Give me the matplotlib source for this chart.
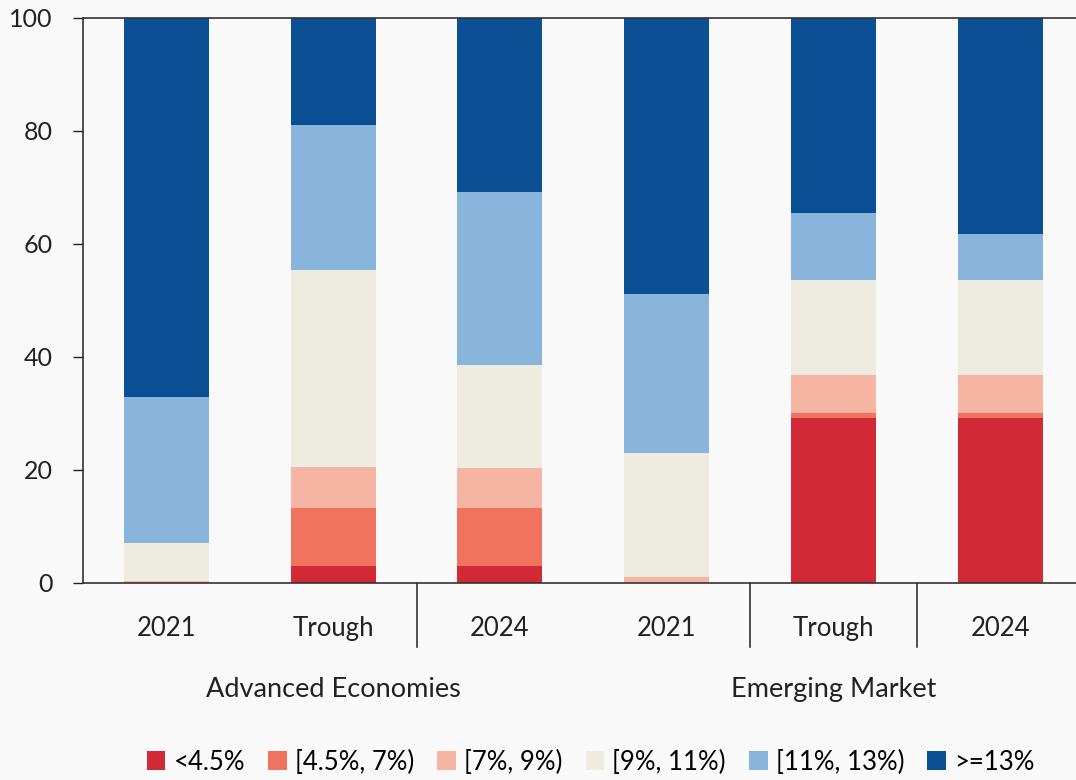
import matplotlib
matplotlib.use("Agg")
import matplotlib.pyplot as plt
import numpy as np

plt.rcParams["font.family"] = ["Lato", "DejaVu Sans"]

categories = ["2021", "Trough", "2024", "2021", "Trough", "2024"]
groups = ["Advanced Economies", "Emerging Market"]
group_centers = [1, 4]
separators = [1.5, 3.5, 4.5]

buckets = ["<4.5%", "[4.5%, 7%)", "[7%, 9%)", "[9%, 11%)", "[11%, 13%)", ">=13%"]
colors = ["#d12a36", "#f07360", "#f6b4a2", "#eeebe1", "#89b4db", "#0b4f95"]

# share of countries per bucket, for each bar
lt_4_5 = [0.0, 3.0, 3.0, 0.0, 29.2, 29.2]
b_4_5_7 = [0.0, 10.3, 10.3, 0.0, 0.9, 0.9]
b_7_9 = [0.3, 7.3, 7.1, 1.0, 6.7, 6.7]
b_9_11 = [6.8, 34.8, 18.2, 22.0, 16.8, 16.8]
b_11_13 = [25.9, 25.7, 30.6, 28.1, 11.8, 8.1]
ge_13 = [67.0, 18.9, 30.8, 48.9, 34.6, 38.3]
series = [lt_4_5, b_4_5_7, b_7_9, b_9_11, b_11_13, ge_13]

bg = "#f9f9f9"
fig = plt.figure(figsize=(10.76, 7.8), dpi=100, facecolor=bg)
ax = fig.add_axes([0.0771, 0.2526, 0.930, 0.7244], facecolor=bg)

x = np.arange(len(categories))
bottom = np.zeros(len(categories))
for name, vals, col in zip(buckets, series, colors):
    ax.bar(x, vals, width=0.51, bottom=bottom, color=col, label=name, linewidth=0)
    bottom += np.asarray(vals)

ax.set_xlim(-0.5, 5.5)
ax.set_ylim(0, 100)
ax.set_yticks([0, 20, 40, 60, 80, 100])
ax.tick_params(axis="y", length=7, width=1, pad=15, labelsize=18, colors="#222222")
ax.set_xticks(x, categories)
ax.tick_params(axis="x", length=0, pad=24, labelsize=18.5, colors="#222222")

for side in ["left", "top", "bottom"]:
    ax.spines[side].set_color("#333333")
    ax.spines[side].set_linewidth(1.2)
ax.spines["right"].set_visible(False)

trans = ax.get_xaxis_transform()
for s in separators:
    ax.plot([s, s], [0, -0.113], transform=trans, color="#333333", lw=1.2, clip_on=False)
for g, c in zip(groups, group_centers):
    ax.text(c, -0.189, g, transform=trans, ha="center", va="center", fontsize=19.5, color="#222222")

fig.legend(loc="center", bbox_to_anchor=(0.549, 0.023), ncol=6, frameon=False,
           fontsize=18.5, handlelength=0.72, handleheight=0.72, handletextpad=0.32,
           columnspacing=0.9, borderaxespad=0)

fig.savefig("out.png", dpi=100, facecolor=bg)
